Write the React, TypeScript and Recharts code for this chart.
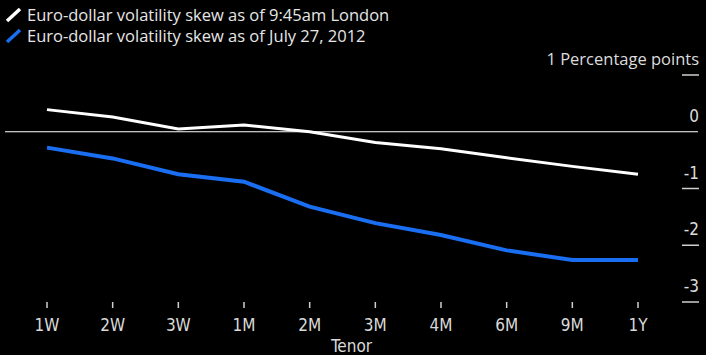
import { LineChart, Line, XAxis, YAxis, ReferenceLine } from 'recharts';

// Tenors along the bottom
const tenors = ['1W', '2W', '3W', '1M', '2M', '3M', '4M', '6M', '9M', '1Y'];

// Skew in percentage points
const skewToday = [0.39, 0.26, 0.05, 0.12, 0.0, -0.19, -0.3, -0.46, -0.61, -0.75];
const skew2012 = [-0.28, -0.47, -0.75, -0.88, -1.32, -1.61, -1.82, -2.09, -2.26, -2.26];

const yTicks = [1, 0, -1, -2, -3];

const series = [
  { key: 'today', name: 'Euro-dollar volatility skew as of 9:45am London', color: '#ffffff', width: 3 },
  { key: 'old', name: 'Euro-dollar volatility skew as of July 27, 2012', color: '#1a6ef2', width: 4 },
];

const data = tenors.map((tenor, i) => ({
  tenor,
  today: skewToday[i],
  old: skew2012[i],
}));

const narrow = '"Liberation Sans Narrow", "DejaVu Sans Condensed", sans-serif';
const regular = '"Open Sans", "Noto Sans", sans-serif';

const YTick = (props: any) => {
  const { x, y, payload } = props;
  const label = payload.value === 1 ? '1 Percentage points' : String(payload.value);
  return (
    <g>
      {payload.value !== 0 && (
        <line x1={x - 16} x2={x + 1} y1={y} y2={y} stroke="#cfcfcf" strokeWidth={1.5} />
      )}
      <text
        x={x + 1}
        y={y - 10}
        textAnchor="end"
        fill="#dcdcdc"
        fontSize={payload.value === 1 ? 16.5 : 17}
        fontFamily={payload.value === 1 ? regular : narrow}
      >
        {label}
      </text>
    </g>
  );
};

export default function App() {
  return (
    <div style={{ position: 'absolute', left: 0, top: 0, width: 706, height: 355, background: '#000' }}>
      {/* legend drawn by hand, top left */}
      <div
        style={{
          position: 'absolute',
          left: 4,
          top: 4,
          fontFamily: regular,
          fontSize: 16.5,
          color: '#e6e6e6',
          lineHeight: '21px',
          zIndex: 2,
        }}
      >
        {series.map((s) => (
          <div key={s.key} style={{ display: 'flex', alignItems: 'center', whiteSpace: 'nowrap', height: 21 }}>
            <svg width={21} height={16} style={{ marginRight: 2 }}>
              <line x1={3} y1={14} x2={16} y2={2} stroke={s.color} strokeWidth={3.5} />
            </svg>
            <span>{s.name}</span>
          </div>
        ))}
      </div>
      <LineChart width={706} height={355} data={data} margin={{ top: 75, right: 0, bottom: 3, left: 5 }}>
        <XAxis
          dataKey="tenor"
          height={50}
          padding={{ left: 42, right: 60 }}
          axisLine={false}
          tickLine={{ stroke: '#cfcfcf', strokeWidth: 1.5 }}
          tickSize={6}
          tickMargin={11}
          tick={{ fill: '#d9d9d9', fontSize: 17, fontFamily: narrow }}
          label={{ value: 'Tenor', position: 'insideBottom', offset: 0, fill: '#d9d9d9', fontSize: 17, fontFamily: narrow }}
        />
        <YAxis
          orientation="right"
          width={8}
          domain={[-3, 1]}
          ticks={yTicks}
          axisLine={false}
          tickLine={false}
          tickSize={0}
          tickMargin={0}
          tick={<YTick />}
          interval={0}
        />
        <ReferenceLine y={0} stroke="#ffffff" strokeWidth={1} />
        {series.map((s) => (
          <Line
            key={s.key}
            name={s.name}
            dataKey={s.key}
            stroke={s.color}
            strokeWidth={s.width}
            dot={false}
            isAnimationActive={false}
          />
        ))}
      </LineChart>
    </div>
  );
}
